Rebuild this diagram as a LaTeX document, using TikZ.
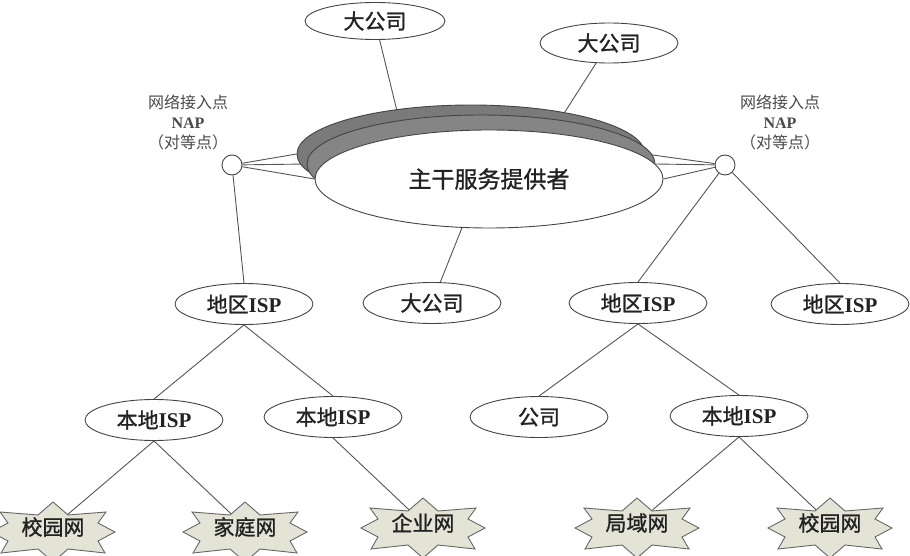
\documentclass[tikz,border=0pt]{standalone}
\usepackage{fontspec}
\setmainfont{Liberation Serif}
\newfontfamily\cjk{Noto Sans CJK SC}
\newfontfamily\cjkb[FakeBold=1.2]{Noto Sans CJK SC}
\usetikzlibrary{shapes.geometric}
\pgfdeclarelayer{bg}
\pgfsetlayers{bg,main}
\definecolor{linegray}{HTML}{555555}
\definecolor{ovalgray}{HTML}{444444}
\definecolor{textgray}{HTML}{222222}
\definecolor{labelgray}{HTML}{4A4A4A}
\definecolor{bandgray}{HTML}{7A7A7A}
\definecolor{bandgraytwo}{HTML}{858585}
\definecolor{starfill}{HTML}{E4E4D6}
\definecolor{starline}{HTML}{666666}
\newcommand\drawnetstar[1]{%
  \draw[starshape, shift={(#1)}] (0,-30) -- (15,-17) -- (53,-20) -- (45,-9) -- (62,0) -- (45,9) -- (52,21) -- (15,17) -- (0,30) -- (-15,17) -- (-52,21) -- (-45,9) -- (-62,0) -- (-45,-9) -- (-53,-20) -- (-15,-17) -- cycle;}
\begin{document}
\begin{tikzpicture}[x=1pt,y=-1pt,
  conn/.style={draw=linegray, line width=0.9pt},
  oval/.style={ellipse, draw=ovalgray, line width=0.9pt, fill=white,
    minimum width=138pt, minimum height=41pt, inner sep=0pt,
    font=\fontsize{21}{24}\selectfont, text=textgray},
  bigoval/.style={ellipse, draw=ovalgray, line width=0.9pt,
    minimum width=348pt, minimum height=98pt, inner sep=0pt},
  napcircle/.style={circle, draw=ovalgray, line width=0.9pt, fill=white,
    minimum size=20pt, inner sep=0pt},
  naplabel/.style={align=center, text=labelgray,
    font=\fontsize{16}{20}\selectfont, inner sep=0pt},
  starshape/.style={draw=starline, line width=0.9pt, fill=starfill},
  startext/.style={text=textgray, font=\fontsize{21}{24}\selectfont\cjkb, inner sep=1pt}
]
\useasboundingbox (0,0) rectangle (910,556);
\clip (0,0) rectangle (910,556);

% backbone
\node[bigoval, fill=bandgray] (bb1) at (471,154) {};
\node[bigoval, fill=bandgraytwo] (bb2) at (481,164) {};
\node[bigoval, fill=white] (bbw) at (489,179)
  {\fontsize{23}{26}\selectfont\cjkb\color{textgray}主干服务提供者};

% big companies
\node[oval, minimum width=140pt, minimum height=37pt] (bc1) at (375,21) {\cjkb 大公司};
\node[oval, minimum height=40pt] (bc2) at (609,43) {\cjkb 大公司};
\node[oval] (bc3) at (432,303) {\cjkb 大公司};

% NAPs
\node[napcircle] (napL) at (232,165) {};
\node[napcircle] (napR) at (725,165) {};
\node[naplabel] (napLlab) at (188,122) {{\cjk 网络接入点}\\\textbf{NAP}\\{\cjk （对等点）}};
\node[naplabel] (napRlab) at (780,122) {{\cjk 网络接入点}\\\textbf{NAP}\\{\cjk （对等点）}};

% regional ISPs
\node[oval] (rispL) at (244,304) {{\cjkb 地区}\textbf{ISP}};
\node[oval] (rispM) at (638,303) {{\cjkb 地区}\textbf{ISP}};
\node[oval] (rispR) at (840,304) {{\cjkb 地区}\textbf{ISP}};

% local ISPs and company
\node[oval] (lispA) at (154,420) {{\cjkb 本地}\textbf{ISP}};
\node[oval] (lispB) at (333,417) {{\cjkb 本地}\textbf{ISP}};
\node[oval] (comp) at (539,417) {\cjkb 公司};
\node[oval] (lispC) at (739,416) {{\cjkb 本地}\textbf{ISP}};

% stars
\drawnetstar{53,532}
\drawnetstar{245,532}
\drawnetstar{423,528}
\drawnetstar{637,528}
\drawnetstar{830,528}
\node[startext] (s1) at (53,527) {校园网};
\node[startext] (s2) at (245,527) {家庭网};
\node[startext] (s3) at (423,523) {企业网};
\node[startext] (s4) at (637,523) {局域网};
\node[startext] (s5) at (830,523) {校园网};

\begin{pgfonlayer}{bg}
  \draw[conn] (bc1) -- (bb1.149);
  \draw[conn] (bc2) -- (bb1.24);
  \draw[conn] (bc3) -- (bbw.241);
  \draw[conn] (napL) -- (bb1.west);
  \draw[conn] (napL) -- (bb2.west);
  \draw[conn] (napL) -- (bbw.west);
  \draw[conn] (napR) -- (bb1.east);
  \draw[conn] (napR) -- (bb2.east);
  \draw[conn] (napR) -- (bbw.east);
  \draw[conn] (napL) -- (rispL.north);
  \draw[conn] (napR) -- (rispM.north);
  \draw[conn] (napR) -- (rispR.north);
  \draw[conn] (rispL.south) -- (lispA.north);
  \draw[conn] (rispL.south) -- (lispB.north);
  \draw[conn] (rispM.south) -- (comp.north);
  \draw[conn] (rispM.south) -- (lispC.north);
  \draw[conn] (lispA.south) -- (s1.center);
  \draw[conn] (lispA.south) -- (s2.center);
  \draw[conn] (lispB.south) -- (s3.center);
  \draw[conn] (lispC.south) -- (s4.center);
  \draw[conn] (lispC.south) -- (s5.center);
\end{pgfonlayer}
\end{tikzpicture}
\end{document}
